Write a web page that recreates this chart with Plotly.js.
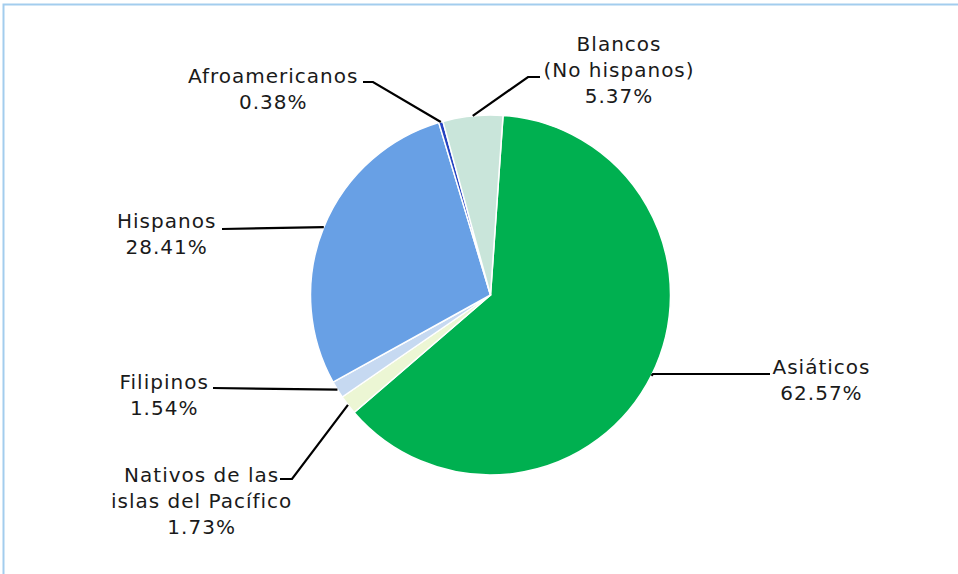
<!DOCTYPE html>
<html>
<head>
<meta charset="utf-8">
<script src="https://cdn.plot.ly/plotly-3.0.1.min.js"></script>
<style>html,body{margin:0;padding:0;background:#fff;}#chart{width:958px;height:574px;}
#chart .annotation-text{letter-spacing:1px;}</style>
</head>
<body>
<div id="chart"></div>
<script>
// ---- data ----
const categories = ['Asiáticos', 'Nativos de las islas del Pacífico', 'Filipinos', 'Hispanos', 'Afroamericanos', 'Blancos (No hispanos)'];
const labelLines = [['Asiáticos'], ['Nativos de las', 'islas del Pacífico'], ['Filipinos'], ['Hispanos'], ['Afroamericanos'], ['Blancos', '(No hispanos)']];
const shares = [62.57, 1.73, 1.54, 28.41, 0.38, 5.37];
const colors = ['#00b050', '#ecf6d4', '#c6d9f1', '#68a0e5', '#2443c0', '#c9e5da'];

// ---- layout ----
const W = 958, H = 574;
const cx = 490.5, cy = 295, R = 180, rotation = 4;
const px = x => x / W, py = y => 1 - y / H;

// label centre positions and leader-line elbows (pixels)
const labelPos = [[821, 380], [201, 501], [164, 395], [166, 234], [273, 89], [619, 70]];
const elbows = [
  [[653, 374], [770, 374]],
  [[292, 479], [280, 479]],
  [[213, 388]],
  [[222, 229]],
  [[373, 82], [363, 82]],
  [[528, 77], [540, 77]]
];

const total = shares.reduce((a, b) => a + b, 0);
let acc = 0;
const shapes = [];
const annotations = [];
shares.forEach((v, i) => {
  const mid = (rotation + (acc + v / 2) / total * 360) * Math.PI / 180;
  acc += v;
  const ex = cx + R * Math.sin(mid), ey = cy - R * Math.cos(mid);
  let path = 'M' + px(ex) + ',' + py(ey);
  elbows[i].forEach(p => { path += ' L' + px(p[0]) + ',' + py(p[1]); });
  shapes.push({type: 'path', xref: 'paper', yref: 'paper', path: path,
               line: {color: '#000', width: 2.2}});
  annotations.push({
    xref: 'paper', yref: 'paper', x: px(labelPos[i][0]), y: py(labelPos[i][1]),
    xanchor: 'center', yanchor: 'middle', align: 'center', showarrow: false,
    text: labelLines[i].join('<br>') + '<br>' + v.toFixed(2) + '%',
    font: {family: 'DejaVu Sans, Verdana, sans-serif', size: 20, color: '#1a1a1a'}
  });
});

// frame
shapes.unshift({type: 'rect', xref: 'paper', yref: 'paper', x0: px(3.5), y0: py(4.5), x1: px(990), y1: py(600),
                line: {color: '#a3cdee', width: 2}, fillcolor: 'rgba(0,0,0,0)', layer: 'below'});

const trace = {
  type: 'pie', labels: categories, values: shares, sort: false, direction: 'clockwise',
  rotation: rotation, textinfo: 'none', hoverinfo: 'label+percent',
  marker: {colors: colors, line: {color: '#ffffff', width: 1.5}},
  domain: {x: [px(cx - R), px(cx + R)], y: [py(cy + R), py(cy - R)]},
  showlegend: false
};

Plotly.newPlot('chart', [trace], {
  width: W, height: H, margin: {l: 0, r: 0, t: 0, b: 0},
  paper_bgcolor: '#fff', showlegend: false,
  shapes: shapes, annotations: annotations
}, {displayModeBar: false, staticPlot: true});
</script>
</body>
</html>
